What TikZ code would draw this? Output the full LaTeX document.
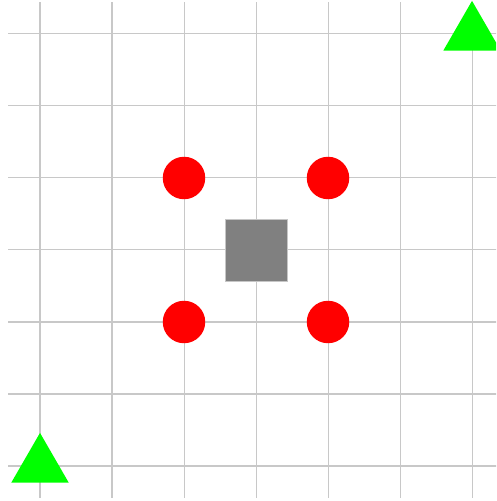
\documentclass[tikz,border=0pt]{standalone}
\usetikzlibrary{shapes.geometric}
\definecolor{gridgray}{RGB}{200,200,200}
\definecolor{brightgreen}{RGB}{0,255,0}
\tikzset{
  gridline/.style={draw=gridgray,line width=0.4pt},
  reddot/.style={circle,fill=red,draw=none,minimum size=0.59cm,inner sep=0pt},
  greytile/.style={rectangle,fill=gray,draw=gray!45,line width=0.3pt,minimum size=0.86cm,inner sep=0pt},
  greentri/.style={regular polygon,regular polygon sides=3,fill=brightgreen,draw=none,minimum size=0.92cm,inner sep=0pt}
}
\begin{document}
\begin{tikzpicture}
\clip (-0.5556,-0.4861) rectangle (6.3333,6.4722);
\fill[white] (-0.5556,-0.4861) rectangle (6.3333,6.4722);
\draw[gridline,step=1] (-0.44,-0.44) grid (6.6,6.44);
\node[greytile] (sq) at (3,3) {};
\node[reddot] (c1) at (2,4) {};
\node[reddot] (c2) at (4,4) {};
\node[reddot] (c3) at (2,2) {};
\node[reddot] (c4) at (4,2) {};
\node[greentri] (t1) at (6,6) {};
\node[greentri] (t2) at (0,0) {};
\end{tikzpicture}
\end{document}
